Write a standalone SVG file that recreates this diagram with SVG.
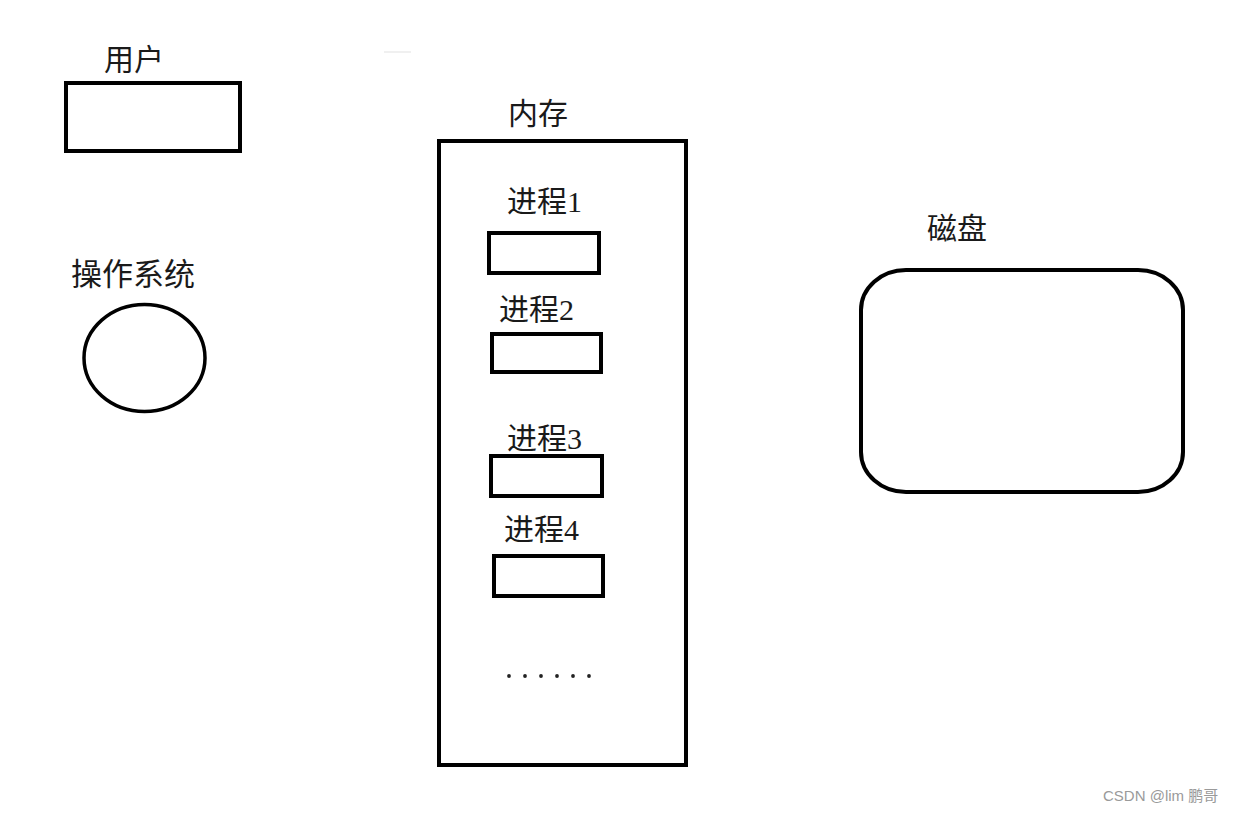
<svg xmlns="http://www.w3.org/2000/svg" width="1236" height="813" viewBox="0 0 1236 813">
<style>
.box{fill:none;stroke:#000;stroke-width:4}
.lbl{font-family:"Liberation Serif","Noto Sans CJK SC",serif;font-size:30px;fill:#1a1a1a}
.wm{font-family:"Liberation Sans","Noto Sans CJK SC",sans-serif;font-size:15px;fill:#9a9a9a}
</style>
<rect width="1236" height="813" fill="#fff"/>
<rect x="384" y="51" width="27" height="2" fill="#f0f0f0"/>
<g id="user">
<text class="lbl" x="104" y="70">用户</text>
<rect class="box" x="66" y="83" width="174" height="68"/>
</g>
<g id="os">
<text class="lbl" x="71" y="285" style="font-size:31px">操作系统</text>
<ellipse class="box" cx="144.5" cy="358" rx="60.5" ry="53.5" style="stroke-width:3.5"/>
</g>
<g id="memory">
<text class="lbl" x="508" y="124">内存</text>
<rect class="box" x="439" y="141" width="247" height="624"/>
</g>
<g id="p1">
<text class="lbl" x="507" y="212">进程1</text>
<rect class="box" x="489" y="233" width="110" height="40"/>
</g>
<g id="p2">
<text class="lbl" x="499" y="320">进程2</text>
<rect class="box" x="492" y="334" width="109" height="38"/>
</g>
<g id="p3">
<text class="lbl" x="507" y="449">进程3</text>
<rect class="box" x="491" y="456" width="111" height="40"/>
</g>
<g id="p4">
<text class="lbl" x="504" y="540">进程4</text>
<rect class="box" x="494" y="556" width="109" height="40"/>
</g>
<g id="dots" fill="#222">
<circle cx="509" cy="676" r="1.9"/>
<circle cx="525" cy="676" r="1.9"/>
<circle cx="541" cy="676" r="1.9"/>
<circle cx="557" cy="676" r="1.9"/>
<circle cx="573" cy="676" r="1.9"/>
<circle cx="589" cy="676" r="1.9"/>
</g>
<g id="disk">
<text class="lbl" x="927" y="239">磁盘</text>
<rect class="box" x="861" y="270" width="322" height="222" rx="45" ry="40"/>
</g>
<g id="connectors"></g>
<text class="wm" x="1103" y="801">CSDN @lim 鹏哥</text>
</svg>
